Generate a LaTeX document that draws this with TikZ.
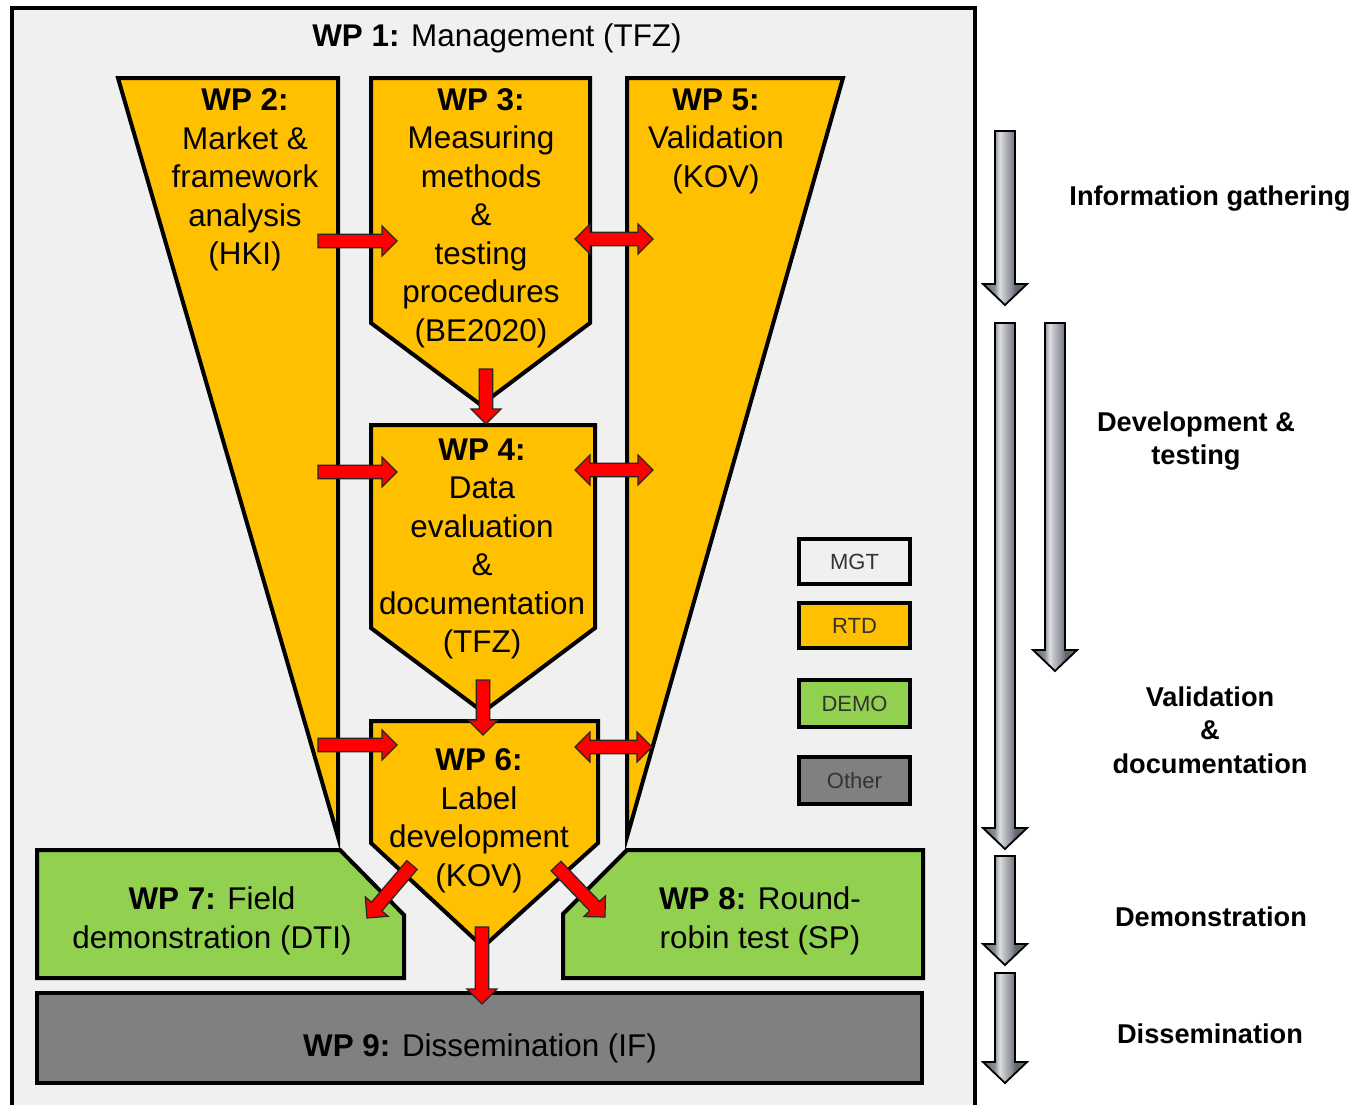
\documentclass[tikz,border=0pt]{standalone}
\usepackage{fontspec}
\setmainfont{Liberation Sans}
\usetikzlibrary{calc}

\definecolor{rtd}{HTML}{FFC000}
\definecolor{demo}{HTML}{92D050}
\definecolor{other}{HTML}{808080}
\definecolor{mgt}{HTML}{F0F0F0}
\definecolor{flowred}{HTML}{FF0000}
\definecolor{mA}{HTML}{5E626A}
\definecolor{mB}{HTML}{8A8E96}
\definecolor{mC}{HTML}{DCDEE2}
\definecolor{mE}{HTML}{B4B7BD}
\definecolor{mF}{HTML}{8C9098}
\definecolor{mD}{HTML}{62666E}

% metallic left-to-right gradient for the phase arrows
\pgfdeclarehorizontalshading{metal}{100bp}{color(0bp)=(mA); color(25bp)=(mA);
  color(38bp)=(mB); color(44bp)=(mC); color(50bp)=(mE); color(57bp)=(mF);
  color(62bp)=(mD); color(75bp)=(mD); color(100bp)=(mD)}

\tikzset{
  ba shaft/.store in=\bashaft, ba head/.store in=\bahead, ba len/.store in=\balen,
  ba shaft=3.4pt, ba head=7.5pt, ba len=7.5pt,
  % block arrow with one head, drawn between two coordinates
  single block/.style={to path={
    ($(\tikztostart)!\bashaft!90:(\tikztotarget)$)
    -- ($(\tikztotarget)!\balen!(\tikztostart)!\bashaft!-90:(\tikztostart)$)
    -- ($(\tikztotarget)!\balen!(\tikztostart)!\bahead!-90:(\tikztostart)$)
    -- (\tikztotarget)
    -- ($(\tikztotarget)!\balen!(\tikztostart)!\bahead!90:(\tikztostart)$)
    -- ($(\tikztotarget)!\balen!(\tikztostart)!\bashaft!90:(\tikztostart)$)
    -- ($(\tikztostart)!\bashaft!-90:(\tikztotarget)$)
    -- cycle}},
  % block arrow with heads at both ends
  double block/.style={to path={
    (\tikztostart)
    -- ($(\tikztostart)!\balen!(\tikztotarget)!\bahead!90:(\tikztotarget)$)
    -- ($(\tikztostart)!\balen!(\tikztotarget)!\bashaft!90:(\tikztotarget)$)
    -- ($(\tikztotarget)!\balen!(\tikztostart)!\bashaft!-90:(\tikztostart)$)
    -- ($(\tikztotarget)!\balen!(\tikztostart)!\bahead!-90:(\tikztostart)$)
    -- (\tikztotarget)
    -- ($(\tikztotarget)!\balen!(\tikztostart)!\bahead!90:(\tikztostart)$)
    -- ($(\tikztotarget)!\balen!(\tikztostart)!\bashaft!90:(\tikztostart)$)
    -- ($(\tikztostart)!\balen!(\tikztotarget)!\bashaft!-90:(\tikztotarget)$)
    -- ($(\tikztostart)!\balen!(\tikztotarget)!\bahead!-90:(\tikztotarget)$)
    -- cycle}},
  flow/.style={fill=flowred, draw=black!85, line width=0.6pt, line join=miter},
  phase/.style={shading=metal, draw=black, line width=0.9pt, line join=miter,
    ba shaft=5pt, ba head=11pt, ba len=10.5pt},
  wpbox/.style={draw=black, line width=2pt, line join=miter},
  wp/.style={align=center, inner sep=0pt, font=\fontsize{15.7}{19.25}\selectfont},
  phasetext/.style={align=center, inner sep=0pt, font=\bfseries\fontsize{13.6}{16.75}\selectfont},
  legend/.style={draw=black, line width=2pt, font=\fontsize{11}{13}\selectfont, text=black!80},
}

\begin{document}
\begin{tikzpicture}[x=0.5pt, y=-0.5pt]
\useasboundingbox (0,0) rectangle (1355,1104);
\clip (0,0) rectangle (1355,1104);

% WP 1 frame
\draw[fill=mgt, line width=1.6pt] (12,8) rectangle (975,1130);

% RTD work packages
\draw[wpbox, fill=rtd] (118,78) -- (338,78) -- (338,837) -- cycle;
\draw[wpbox, fill=rtd] (627,78) -- (843,78) -- (627,837) -- cycle;
\draw[wpbox, fill=rtd] (371,78) -- (590,78) -- (590,323) -- (481,405) -- (371,323) -- cycle;
\draw[wpbox, fill=rtd] (371,425) -- (595,425) -- (595,628) -- (483,712) -- (371,628) -- cycle;
\draw[wpbox, fill=rtd] (371,721) -- (598,721) -- (598,843) -- (483,947) -- (371,843) -- cycle;

% demonstration work packages
\draw[wpbox, fill=demo] (37,850) -- (340,850) -- (404,915) -- (404,978) -- (37,978) -- cycle;
\draw[wpbox, fill=demo] (627,850) -- (923,850) -- (923,978) -- (563,978) -- (563,914) -- cycle;

% dissemination
\draw[wpbox, fill=other] (37,993) rectangle (922,1083);

% legend
\node[legend, fill=mgt, minimum width=55.5pt, minimum height=22.5pt] (lgmgt) at (854.5,561.5) {MGT};
\node[legend, fill=rtd, minimum width=55.5pt, minimum height=22.5pt] (lgrtd) at (854.5,625.5) {RTD};
\node[legend, fill=demo, minimum width=55.5pt, minimum height=23.5pt] (lgdemo) at (854.5,703.5) {DEMO};
\node[legend, fill=other, minimum width=55.5pt, minimum height=23.5pt] (lgother) at (854.5,780.5) {Other};

% texts of the work packages
\node[wp] (wp1t) at (497,38) {\textbf{WP 1:} Management (TFZ)};
\node[wp] (wp2t) at (245,180) {\textbf{WP 2:}\\Market \&\\framework\\analysis\\(HKI)};
\node[wp] (wp3t) at (481,218) {\textbf{WP 3:}\\Measuring\\methods\\\&\\testing\\procedures\\(BE2020)};
\node[wp] (wp5t) at (716,141) {\textbf{WP 5:}\\Validation\\(KOV)};
\node[wp] (wp4t) at (482,549) {\textbf{WP 4:}\\Data\\evaluation\\\&\\documentation\\(TFZ)};
\node[wp] (wp6t) at (479,821) {\textbf{WP 6:}\\Label\\development\\(KOV)};
\node[wp] (wp7t) at (212,921) {\textbf{WP 7:} Field\\demonstration (DTI)};
\node[wp] (wp8t) at (760,921) {\textbf{WP 8:} Round-\\robin test (SP)};
\node[wp] (wp9t) at (480,1048) {\textbf{WP 9:} Dissemination (IF)};

% end points of the flows between work packages
\coordinate (f23a) at (318,241); \coordinate (f23b) at (397,241);
\coordinate (f35a) at (575,239); \coordinate (f35b) at (653,239);
\coordinate (f24a) at (318,472); \coordinate (f24b) at (397,472);
\coordinate (f45a) at (575,470); \coordinate (f45b) at (653,470);
\coordinate (f26a) at (318,745); \coordinate (f26b) at (397,745);
\coordinate (f56a) at (575,747); \coordinate (f56b) at (652,747);
\coordinate (f34a) at (486,369); \coordinate (f34b) at (486,424);
\coordinate (f46a) at (483,680); \coordinate (f46b) at (483,735);
\coordinate (f69a) at (482,927); \coordinate (f69b) at (482,1004);
\coordinate (f67a) at (412,865); \coordinate (f67b) at (367,918);
\coordinate (f68a) at (556,866); \coordinate (f68b) at (605,917);

\draw[flow] (f23a) to[single block] (f23b);
\draw[flow] (f24a) to[single block] (f24b);
\draw[flow] (f26a) to[single block] (f26b);
\draw[flow] (f35a) to[double block] (f35b);
\draw[flow] (f45a) to[double block] (f45b);
\draw[flow] (f56a) to[double block] (f56b);
\draw[flow] (f34a) to[single block] (f34b);
\draw[flow] (f46a) to[single block] (f46b);
\draw[flow] (f69a) to[single block] (f69b);
\draw[flow] (f67a) to[single block] (f67b);
\draw[flow] (f68a) to[single block] (f68b);

% project phases
\coordinate (p1a) at (1005,131); \coordinate (p1b) at (1005,305);
\coordinate (p2a) at (1005,323); \coordinate (p2b) at (1005,849);
\coordinate (p3a) at (1055,323); \coordinate (p3b) at (1055,671);
\coordinate (p4a) at (1005,856); \coordinate (p4b) at (1005,965);
\coordinate (p5a) at (1005,973); \coordinate (p5b) at (1005,1083);

\draw[phase] (p1a) to[single block] (p1b);
\draw[phase] (p2a) to[single block] (p2b);
\draw[phase] (p3a) to[single block] (p3b);
\draw[phase] (p4a) to[single block] (p4b);
\draw[phase] (p5a) to[single block] (p5b);

\node[phasetext] (ph1) at (1210,199) {Information gathering};
\node[phasetext] (ph2) at (1196,441) {Development \&\\testing};
\node[phasetext] (ph3) at (1210,730) {Validation\\\&\\documentation};
\node[phasetext] (ph4) at (1211,917) {Demonstration};
\node[phasetext] (ph5) at (1210,1034) {Dissemination};
\end{tikzpicture}
\end{document}
